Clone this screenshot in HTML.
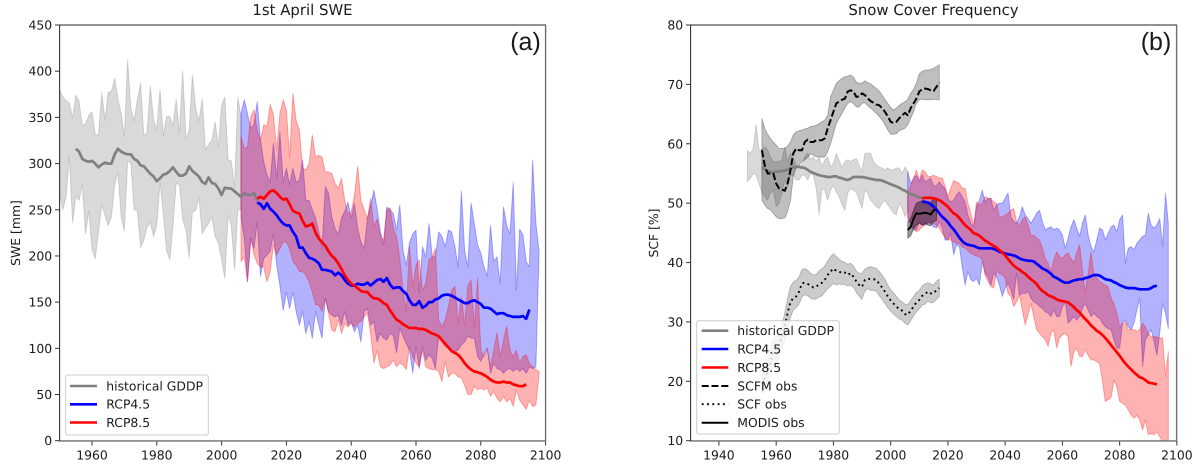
<!DOCTYPE html>
<html>
<head>
<meta charset="utf-8">
<title>SWE and Snow Cover Frequency projections</title>
<style>
html,body{margin:0;padding:0;background:#fff;width:1202px;height:467px;overflow:hidden}
svg{display:block}
text{font-family:"DejaVu Sans","Liberation Sans",sans-serif;fill:#1a1a1a;text-rendering:geometricPrecision}
text.panel-letter{font-family:"Liberation Sans","DejaVu Sans",sans-serif}
</style>
</head>
<body>
<svg id="fig" xmlns="http://www.w3.org/2000/svg" width="1202" height="467" viewBox="0 0 1202 467">
<defs>
<clipPath id="clipA"><rect x="59.6" y="25" width="486" height="415.7"/></clipPath>
<clipPath id="clipB"><rect x="690.3" y="25" width="486.6" height="415.7"/></clipPath>
</defs>

<g id="panelA">
<rect x="59.6" y="25" width="486" height="415.7" fill="#fff"/>
<g id="marksA" clip-path="url(#clipA)"></g>
<g id="ticksA"></g>
<line x1="59" y1="25" x2="546" y2="25" stroke="#6e6e6e" stroke-width="1.4"/>
<line x1="545.6" y1="25" x2="545.6" y2="441" stroke="#6e6e6e" stroke-width="1.4"/>
<line x1="59" y1="440.9" x2="546" y2="440.9" stroke="#6e6e6e" stroke-width="1.4"/>
<line x1="59.6" y1="25" x2="59.6" y2="441" stroke="#333" stroke-width="1.1"/>
<text x="302.5" y="15" text-anchor="middle" font-size="14.9">1st April SWE</text>
<text transform="translate(20,233) rotate(-90)" text-anchor="middle" font-size="12.4">SWE [mm]</text>
<text class="panel-letter" x="525.5" y="50" text-anchor="middle" font-size="25">(a)</text>
<g>
<rect x="65.7" y="375" width="142.6" height="60" rx="2" fill="#fff" fill-opacity="0.8" stroke="#ccc" stroke-width="1"/>
<g><line x1="70" y1="386" x2="97" y2="386" stroke="#808080" stroke-width="2.6"/><text x="106.3" y="390.4" font-size="12.4">historical GDDP</text></g>
<g><line x1="70" y1="404.3" x2="97" y2="404.3" stroke="#0000ff" stroke-width="2.6"/><text x="106.3" y="408.7" font-size="12.4">RCP4.5</text></g>
<g><line x1="70" y1="422.5" x2="97" y2="422.5" stroke="#ff0000" stroke-width="2.6"/><text x="106.3" y="426.9" font-size="12.4">RCP8.5</text></g>
</g>
</g>

<g id="panelB">
<rect x="690.3" y="25" width="486.6" height="415.7" fill="#fff"/>
<g id="marksB" clip-path="url(#clipB)"></g>
<g id="ticksB"></g>
<line x1="690" y1="25" x2="1177" y2="25" stroke="#6e6e6e" stroke-width="1.4"/>
<line x1="1176.6" y1="25" x2="1176.6" y2="441" stroke="#6e6e6e" stroke-width="1.4"/>
<line x1="690" y1="440.9" x2="1177" y2="440.9" stroke="#6e6e6e" stroke-width="1.4"/>
<line x1="690.6" y1="25" x2="690.6" y2="441" stroke="#333" stroke-width="1.1"/>
<text x="933.5" y="15" text-anchor="middle" font-size="14.9">Snow Cover Frequency</text>
<text transform="translate(658,233) rotate(-90)" text-anchor="middle" font-size="12.4">SCF [%]</text>
<text class="panel-letter" x="1156" y="50" text-anchor="middle" font-size="25">(b)</text>
<g>
<rect x="696.7" y="320.7" width="142.6" height="113.3" rx="2" fill="#fff" fill-opacity="0.8" stroke="#ccc" stroke-width="1"/>
<g><line x1="701.7" y1="330.7" x2="728.3" y2="330.7" stroke="#808080" stroke-width="2.6"/><text x="737.3" y="335.1" font-size="12.4">historical GDDP</text></g>
<g><line x1="701.7" y1="349" x2="728.3" y2="349" stroke="#0000ff" stroke-width="2.6"/><text x="737.3" y="353.4" font-size="12.4">RCP4.5</text></g>
<g><line x1="701.7" y1="367.5" x2="728.3" y2="367.5" stroke="#ff0000" stroke-width="2.6"/><text x="737.3" y="371.9" font-size="12.4">RCP8.5</text></g>
<g><line x1="701.7" y1="386" x2="728.3" y2="386" stroke="#000" stroke-width="2" stroke-dasharray="7 2.8"/><text x="737.3" y="390.4" font-size="12.4">SCFM obs</text></g>
<g><line x1="701.7" y1="404.2" x2="728.3" y2="404.2" stroke="#000" stroke-width="1.9" stroke-dasharray="1.9 3.4"/><text x="737.3" y="408.6" font-size="12.4">SCF obs</text></g>
<g><line x1="701.7" y1="422.7" x2="728.3" y2="422.7" stroke="#000" stroke-width="2"/><text x="737.3" y="427.1" font-size="12.4">MODIS obs</text></g>
</g>
</g>
</svg>

<script>
// ---------- Panel (a): 1st April SWE [mm] ----------
const sweXTicks = [1960,1980,2000,2020,2040,2060,2080,2100];
const sweYTicks = [0,50,100,150,200,250,300,350,400,450];

const sweHistBandStart = 1950;
const sweHistHigh = [380,372,368,366,349,374,368,341,343,352,356,331,331,377,347,377,378,392,370,354,329,412,360,346,369,387,330,334,384,347,337,380,330,351,351,341,369,333,400,326,336,396,360,346,370,315,321,325,345,318,363,372,304,303,275,372,351];
const sweHistLow = [268,250,264,309,236,265,260,277,224,249,207,197,226,256,244,233,242,277,291,242,227,303,300,250,249,209,217,231,236,221,233,280,246,206,196,233,279,277,239,228,198,248,249,264,224,230,235,242,221,214,196,176,244,233,185,250,250];
const sweHistMeanStart = 1955;
const sweHistMean = [316,313,305,303,302,303,300,296,299,301,300,300,310,316,313,311,310,310,305,303,298,297,293,289,286,281,284,288,289,292,296,291,287,287,289,297,292,289,286,280,278,285,279,278,273,266,274,273,273,270,267,264,268,266,266,268,260];

const sweBandStart = 2006;
const sweBlueHigh = [354,369,354,338,342,367,325,302,288,280,322,284,334,279,295,277,295,280,282,304,260,260,250,241,226,208,275,268,242,230,223,241,248,258,241,257,230,215,208,241,255,271,251,226,212,253,250,246,228,255,206,190,214,224,228,160,210,199,235,199,199,226,221,210,228,226,210,188,270,206,188,257,235,212,203,188,178,233,194,199,170,253,233,224,279,163,229,223,194,188,304,235,205];
const sweBlueLow = [242,219,172,219,208,237,178,197,201,205,224,190,168,141,161,143,161,140,125,140,116,129,111,140,125,111,154,140,136,134,136,125,140,125,129,118,125,107,140,143,125,129,107,116,111,109,116,114,95,122,113,105,98,73,102,78,102,87,93,89,78,113,107,102,100,98,96,98,104,107,113,111,111,91,86,93,100,73,84,78,77,73,77,78,75,78,75,78,73,80,78,80,205];
const sweRedHigh = [329,316,318,351,358,336,325,342,340,364,353,315,354,369,358,307,376,347,336,295,293,300,331,307,309,307,291,291,289,279,273,284,260,245,248,265,297,260,250,240,262,232,240,222,217,250,252,230,221,197,163,140,210,167,190,196,163,170,196,199,208,131,123,131,145,163,167,127,156,125,167,174,123,176,98,91,100,80,98,117,91,109,124,98,91,98,84,91,93,84,80,77,75];
const sweRedLow = [194,199,172,219,201,192,188,188,172,183,212,201,208,215,215,208,194,190,183,183,179,172,161,147,147,140,154,138,120,118,131,116,127,123,127,123,127,129,134,138,116,84,98,80,78,80,82,87,80,84,82,77,102,91,84,80,98,80,78,77,77,75,64,86,69,73,73,69,68,60,50,50,59,55,57,55,57,48,53,46,42,48,42,46,37,55,44,39,34,44,37,39,72];

const sweMeanStart = 2011;
const sweBlueMean = [258,256,251,257,251,248,244,239,235,233,233,226,221,209,209,203,198,197,195,192,185,185,184,183,179,182,179,174,170,168,168,170,169,169,171,168,171,174,175,172,176,169,165,166,166,162,159,152,147,147,151,144,146,150,150,153,154,157,158,158,157,155,153,151,149,149,151,152,150,148,144,144,143,140,137,138,138,136,135,134,134,134,135,132,142];
const sweRedMean = [262,264,262,266,270,271,268,264,261,262,256,249,247,246,238,232,233,235,225,219,215,211,205,200,197,192,186,179,174,170,168,165,162,161,161,157,154,154,152,149,147,141,136,131,129,126,124,122,122,122,121,121,120,118,116,115,113,109,105,101,97,95,93,89,84,80,77,75,74,73,71,69,66,64,63,63,64,63,63,61,60,59,59,61];

// ---------- Panel (b): Snow Cover Frequency [%] ----------
const scfXTicks = [1940,1960,1980,2000,2020,2040,2060,2080,2100];
const scfYTicks = [10,20,30,40,50,60,70,80];

const scfHistBandStart = 1950;
const scfHistHigh = [58.8,58.4,59.2,63.3,59,59,59.5,59,57.8,57,57,57,57.3,59.5,57,58.4,57.5,56.4,56.1,56.4,57.8,58.4,57.3,57.8,57,57.8,56.1,57.3,57.8,56.1,56.7,58.4,57.3,55.9,57,57.3,57,57.3,57.5,56.4,55.3,58.4,58.4,58.4,57,56.4,56.1,55.9,55.6,55.9,55.6,55.6,55.9,55.9,55,56.1,55.3];
const scfHistLow = [53.6,54.2,55,54.7,53.3,51.7,51.1,50.5,51.7,52.2,49.4,50,51.7,53.9,52.8,54.7,54.7,53.9,53.9,54.7,54.7,53.9,55,54.7,52.5,48,52.5,52.2,50.5,52.2,53,51.9,51.1,49.7,48.8,51.7,52.5,52.2,51.9,50.5,49.1,52.2,51.7,50.5,50,49.4,49.1,50,50.5,49.7,49.1,48.3,48,50,49.1,47.7,48.8];
const scfHistMeanStart = 1955;
const scfHistMean = [56.1,55.7,55.4,55.3,55.2,55.3,55.3,55.4,55.5,55.6,55.9,56,56.1,56.1,56,55.9,55.6,55.3,55.1,54.9,54.7,54.6,54.5,54.4,54.4,54.5,54.5,54.3,54.2,54,53.9,54.1,54.4,54.4,54.4,54.4,54.3,54.2,54.1,54,53.9,53.9,53.8,53.6,53.4,53.2,53,52.8,52.6,52.3,52.1,51.8,51.5,51.4,51.2,51,50.9];

const scfBandStart = 2006;
const scfBlueHigh = [55.3,53.3,54.2,54.7,53.6,54.8,53.6,53.9,54.2,52.9,52.9,53.6,52.9,52.5,50.8,50.2,50.5,51.4,51.9,51.1,50.2,48,46.6,46,49.4,50.5,52.2,50.2,50.8,50.8,48.8,49.7,50,50,50.8,51.7,47.7,46.9,46.6,47.7,49.4,48,47.4,46.6,47.4,48.3,48.8,46.9,45.5,45.8,46,45.5,45.8,45.5,44.6,42.4,44.1,46,47.2,45.8,44.4,46.6,48,44.6,42.7,41.8,43.8,45.8,45.5,43.8,44.9,46,46.3,45.2,47.2,48,39.9,42.4,42.7,42.1,43.2,43.8,44.4,44.6,48.3,46.3,45.8,46.3,47.4,42.7,51.7,46.6];
const scfBlueLow = [47.4,46.6,45.5,45.5,46.9,46.3,46.3,46.9,46.6,46,45.8,46.9,45.8,43.8,43.8,44.9,41.3,43,42.7,39.3,36.2,38.5,37.1,36.8,37.4,36.2,40.2,38.2,37.6,36.2,38.2,37.6,36.2,34.3,35.7,36.5,35.4,33.8,38.2,34.5,34.8,34.8,35.1,34,33.4,33.1,32.6,32.3,31.7,31.5,30.9,32,30.9,30.9,32.6,33.4,29.8,30.3,30.9,30.3,30.9,32.3,33.1,32,30.9,31.5,30.9,30.6,29.8,29.2,28.9,28.7,27,25.6,25.6,30,30.3,29.2,28.7,29.8,32,34,22.5,27,27.8,28.7,26.7,24.4,28.1,33.1,31.5,28.9];
const scfRedHigh = [51.4,53,54.2,55.6,53.9,55.6,55.3,54.5,54.5,54.7,54.5,54.2,54.3,52.9,51.1,52.5,53.8,53.6,53.3,52.5,52.5,50,48.3,46.3,50.2,49.7,50,51.1,50.8,50.8,50.2,50,47.7,47.7,48,48.3,48.8,49.1,46.9,46,47.2,47.7,46.3,44.6,44.6,44.1,43.8,42.4,40.7,39.9,38.5,40.4,41.8,41,40.7,41.3,41.6,40.7,39.9,41.6,43,38.8,34.8,38.2,41.8,37.9,37.4,36.8,36.5,36.2,35.9,34,33.1,31.5,29.2,29.8,30,28.7,28.7,28.7,28.4,28.7,29.8,29.2,28.1,27.5,27.5,27.5,27.3,27.3,20.8,25];
const scfRedLow = [47.7,46.6,45.7,45.2,45.5,46,46.3,46.6,46.9,46.6,46.3,45.8,44.9,44.3,43.8,43.8,43.5,43.2,43.2,42.6,42.4,42,41.5,41.3,41.1,41,40.4,37.9,36.8,36,35.7,38.5,38.2,37.9,37.4,34.8,34.3,32.6,33.4,34.5,32,29.5,31.2,33.1,30.9,28.7,28.1,27.5,27,25.9,28.1,28.7,25.6,27.3,27.8,28.1,27.5,22.5,25,25.6,24.2,24.2,25.3,24.4,23.6,23.6,23.3,23,20,16.6,16.9,17.3,20.2,19.1,16.6,16.3,16,15.2,14.3,13.8,14.3,13.5,11.8,13.5,11,11.2,11,11.5,10.7,9.8,9.5,9.5];

const scfMeanStart = 2011;
const scfBlueMean = [50.3,50.2,50.1,49.8,49.4,48.9,48.3,47.7,47.3,46.8,46.1,45.6,44.9,44.2,43.6,43.2,43,42.9,42.8,42.6,42.4,42.4,42.4,42.4,42.4,42.3,42.1,41.8,41.7,41.5,41.4,41.3,41.2,41,40.7,40.5,40.4,40.3,40.3,40.2,39.8,39.4,39,38.8,38.5,38.1,37.6,37.4,37.1,36.8,36.6,36.6,36.8,37,37.1,37.2,37.2,37.4,37.5,37.7,37.9,37.9,37.8,37.5,37.2,37.1,37,36.7,36.5,36.2,36,35.8,35.7,35.7,35.7,35.6,35.5,35.5,35.5,35.5,35.7,36,36.1];
const scfRedMean = [50.8,50.9,50.9,50.9,50.8,50.7,50.5,50.2,49.8,49.4,48.8,48.3,48,47.5,46.9,46.3,45.9,45.5,44.9,44.8,44.5,44.1,43.7,43.4,43.1,42.8,42.5,42.1,41.7,41.2,40.6,40,39.5,39.1,38.8,38.4,38.1,37.6,37.2,36.8,36.4,35.7,35.2,34.9,34.5,34.3,34.1,33.8,33.6,33.5,33.4,33.3,32.9,32.5,32,31.6,31,30.5,30,29.4,29,28.5,28.2,27.8,27.3,26.7,26.1,25.5,24.9,24.3,23.6,23,22.5,22,21.5,21.1,20.7,20.5,20.2,19.8,19.7,19.6,19.5];

const obsStart = 1955;
const scfmHigh = [64.3,62.6,61.6,60.9,60.3,59.8,59.2,59.2,59.2,59.6,60.3,61.5,62,62.2,62.3,62.5,62.6,62.9,63,63.1,63.4,63.7,64,64.8,67.9,69,70.2,70.6,71,71.3,71.4,71.6,71.2,70.4,70.2,70.2,70.6,70.3,70.1,69.7,69.3,68.9,68.2,67.5,66.8,66.1,65.7,66,66.5,66.8,67.1,67.5,68.5,69.2,70.2,71.8,72.2,72.4,72.4,72.5,72.7,73,73.3];
const scfmLow = [50.5,49.7,49.1,48.9,48.3,47.7,47.4,47.4,47.5,48.6,50.5,54.5,55.9,56.4,57,57.3,57.7,58.3,58.1,57.8,57.8,57.7,57.8,58.7,60,61.7,63.4,64.3,65.1,66,66.8,67.1,66.8,66.2,66.2,66.8,66.9,66.4,66,65.6,65.1,64.6,64,63.2,62.3,61.6,61.6,61.7,62.2,62.4,62.6,63.2,64.3,65.4,66.8,67.4,67.5,67.4,67.4,67.4,67.5,67.4,67.4];
const scfmMean = [58.9,56.4,55,55,55,53.3,52.5,52.3,52.1,53.3,55.6,58.4,59.2,58.9,58.9,60.3,60.7,60.3,60.3,60.6,60.6,60.6,60.9,62.6,64,65.4,66.8,67.1,67.4,67.6,68.8,69,68.8,67.9,68,68.5,68.2,67.6,67.2,66.9,66.6,66.5,66,65.4,64.6,63.7,63.5,63.7,64.3,64.8,65.2,64.8,66,66.8,67.6,68.8,69.2,69.3,69.2,69,68.9,69.6,70.3];
const scfObsHigh = [21,22,23.5,25.5,27,27.5,27.8,29.5,31.5,34,36,36.7,37,37.6,38.8,39,38.7,38.2,37.9,38,38.6,39,39.4,40.3,41,41.5,41,40.6,40.2,40,39.7,39.9,39.4,38.6,38.2,38.2,38.9,39.2,39.3,39.2,39,38.5,37.9,37.2,36.2,35.4,34.9,34.3,33.7,33.4,33,32.9,33.6,34.3,35,35.3,36.1,36.4,36.6,36.4,36.2,36.9,37.2];
const scfObsLow = [18,19,20,21,22.5,23,24,25.5,27,28.8,30.8,32,32.4,33,34.2,34.6,34.4,34,33.8,33.9,34.2,34.4,35,35.6,36,36.5,36.2,36.4,36.3,36.3,36,36.2,35.8,35,34.3,33.8,35.2,35.6,35.3,35.3,35.2,34.4,33.8,33.1,32.4,31.8,31.3,30.9,30.5,30.3,29.8,29.5,30.2,31,31.7,32.2,32.8,33,33.5,33.2,33.3,33.8,34.3];
const scfObsMean = [19.5,20.5,21.5,23,25,25.5,26,27.5,29.2,31.5,33.4,34,34.3,35.1,36.5,36.6,36.4,36.1,35.8,35.9,36.4,36.6,37.1,37.9,38.5,39,38.6,38.5,38.2,38.3,37.9,38.2,37.6,36.8,36.2,35.9,37.1,37.3,37.2,37.2,37.1,36.4,35.8,35.1,34.3,33.6,33.1,32.6,32.1,31.9,31.3,31.2,31.9,32.6,33.3,33.7,34.4,34.7,35.1,34.8,34.8,35.4,35.7];

const modisStart = 2006;
const modisHigh = [46.9,47.4,48.8,50,50.2,50.4,50.1,50.2,50.1,50.7,50.7];
const modisLow = [44.1,44.5,45.7,46.3,46.6,46.3,46.6,46.3,46.2,46.9,47.1];
const modisMean = [45.5,46,47.4,48.3,48.2,48.3,48.4,48.3,48.1,48.8,48.9];

// ---------- axis functions ----------
const SVGNS = 'http://www.w3.org/2000/svg';
function xA(year){ return 59.6 + (year - 1950) * 486 / 150; }
function yA(v){ return 440.7 - v * 415.7 / 450; }
function xB(year){ return 690.3 + (year - 1930) * 486.6 / 170; }
function yB(v){ return 440.7 - (v - 10) * 415.7 / 70; }

function bandPoints(start, high, low, fx, fy){
  const pts = [];
  for (let i = 0; i < high.length; i++) pts.push(fx(start + i).toFixed(1) + ',' + fy(high[i]).toFixed(1));
  for (let i = low.length - 1; i >= 0; i--) pts.push(fx(start + i).toFixed(1) + ',' + fy(low[i]).toFixed(1));
  return pts.join(' ');
}
function linePoints(start, vals, fx, fy){
  return vals.map(function(v, i){ return fx(start + i).toFixed(1) + ',' + fy(v).toFixed(1); }).join(' ');
}
function addBand(parent, name, start, high, low, fx, fy, color, alpha){
  const el = document.createElementNS(SVGNS, 'polygon');
  
  
  el.setAttribute('points', bandPoints(start, high, low, fx, fy));
  el.setAttribute('fill', color);
  el.setAttribute('fill-opacity', alpha);
  el.setAttribute('stroke', color);
  el.setAttribute('stroke-opacity', alpha);
  el.setAttribute('stroke-width', '1');
  el.setAttribute('stroke-linejoin', 'round');
  parent.appendChild(el);
}
function addLine(parent, name, start, vals, fx, fy, color, width, dash){
  const el = document.createElementNS(SVGNS, 'polyline');
  
  
  el.setAttribute('points', linePoints(start, vals, fx, fy));
  el.setAttribute('fill', 'none');
  el.setAttribute('stroke', color);
  el.setAttribute('stroke-width', width);
  el.setAttribute('stroke-linejoin', 'round');
  if (dash) el.setAttribute('stroke-dasharray', dash);
  parent.appendChild(el);
}
function addXTicks(parent, ticks, fx){
  ticks.forEach(function(t){
    const tick = document.createElementNS(SVGNS, 'line');
    
    
    tick.setAttribute('x1', fx(t));
    tick.setAttribute('x2', fx(t));
    tick.setAttribute('y1', 441);
    tick.setAttribute('y2', 445.6);
    tick.setAttribute('stroke', '#333');
    tick.setAttribute('stroke-width', '1');
    parent.appendChild(tick);
    const label = document.createElementNS(SVGNS, 'text');
    
    
    label.setAttribute('x', fx(t));
    label.setAttribute('y', 459.7);
    label.setAttribute('text-anchor', 'middle');
    label.setAttribute('font-size', '12.4');
    label.textContent = String(t);
    parent.appendChild(label);
  });
}
function addYTicks(parent, ticks, fy, axisX){
  ticks.forEach(function(t){
    const tick = document.createElementNS(SVGNS, 'line');
    
    
    tick.setAttribute('x1', axisX - 4.6);
    tick.setAttribute('x2', axisX);
    tick.setAttribute('y1', fy(t));
    tick.setAttribute('y2', fy(t));
    tick.setAttribute('stroke', '#333');
    tick.setAttribute('stroke-width', '1');
    parent.appendChild(tick);
    const label = document.createElementNS(SVGNS, 'text');
    
    
    label.setAttribute('x', axisX - 7.5);
    label.setAttribute('y', fy(t) + 4.5);
    label.setAttribute('text-anchor', 'end');
    label.setAttribute('font-size', '12.4');
    label.textContent = String(t);
    parent.appendChild(label);
  });
}

// ---------- draw panel (a) ----------
const mA = document.getElementById('marksA');
addBand(mA, 'swe-historical-band', sweHistBandStart, sweHistHigh, sweHistLow, xA, yA, '#808080', 0.3);
addBand(mA, 'swe-rcp45-band', sweBandStart, sweBlueHigh, sweBlueLow, xA, yA, '#0000ff', 0.3);
addBand(mA, 'swe-rcp85-band', sweBandStart, sweRedHigh, sweRedLow, xA, yA, '#ff0000', 0.3);
addLine(mA, 'swe-historical-line', sweHistMeanStart, sweHistMean, xA, yA, '#808080', 2.7);
addLine(mA, 'swe-rcp45-line', sweMeanStart, sweBlueMean, xA, yA, '#0000ff', 2.7);
addLine(mA, 'swe-rcp85-line', sweMeanStart, sweRedMean, xA, yA, '#ff0000', 2.7);
addXTicks(document.getElementById('ticksA'), sweXTicks, xA);
addYTicks(document.getElementById('ticksA'), sweYTicks, yA, 59.6);

// ---------- draw panel (b) ----------
const mB = document.getElementById('marksB');
addBand(mB, 'scf-historical-band', scfHistBandStart, scfHistHigh, scfHistLow, xB, yB, '#808080', 0.3);
addBand(mB, 'scf-rcp45-band', scfBandStart, scfBlueHigh, scfBlueLow, xB, yB, '#0000ff', 0.3);
addBand(mB, 'scf-rcp85-band', scfBandStart, scfRedHigh, scfRedLow, xB, yB, '#ff0000', 0.3);
addBand(mB, 'scfm-obs-band', obsStart, scfmHigh, scfmLow, xB, yB, '#000000', 0.25);
addBand(mB, 'scf-obs-band', obsStart, scfObsHigh, scfObsLow, xB, yB, '#000000', 0.2);
addBand(mB, 'modis-obs-band', modisStart, modisHigh, modisLow, xB, yB, '#000000', 0.4);
addLine(mB, 'scf-historical-line', scfHistMeanStart, scfHistMean, xB, yB, '#808080', 2.7);
addLine(mB, 'scf-rcp45-line', scfMeanStart, scfBlueMean, xB, yB, '#0000ff', 2.7);
addLine(mB, 'scf-rcp85-line', scfMeanStart, scfRedMean, xB, yB, '#ff0000', 2.7);
addLine(mB, 'scfm-obs-line', obsStart, scfmMean, xB, yB, '#000000', 2, '7 2.8');
addLine(mB, 'scf-obs-line', obsStart, scfObsMean, xB, yB, '#000000', 1.9, '1.9 3.4');
addLine(mB, 'modis-obs-line', modisStart, modisMean, xB, yB, '#000000', 2);
addXTicks(document.getElementById('ticksB'), scfXTicks, xB);
addYTicks(document.getElementById('ticksB'), scfYTicks, yB, 690.6);
</script>
</body>
</html>
